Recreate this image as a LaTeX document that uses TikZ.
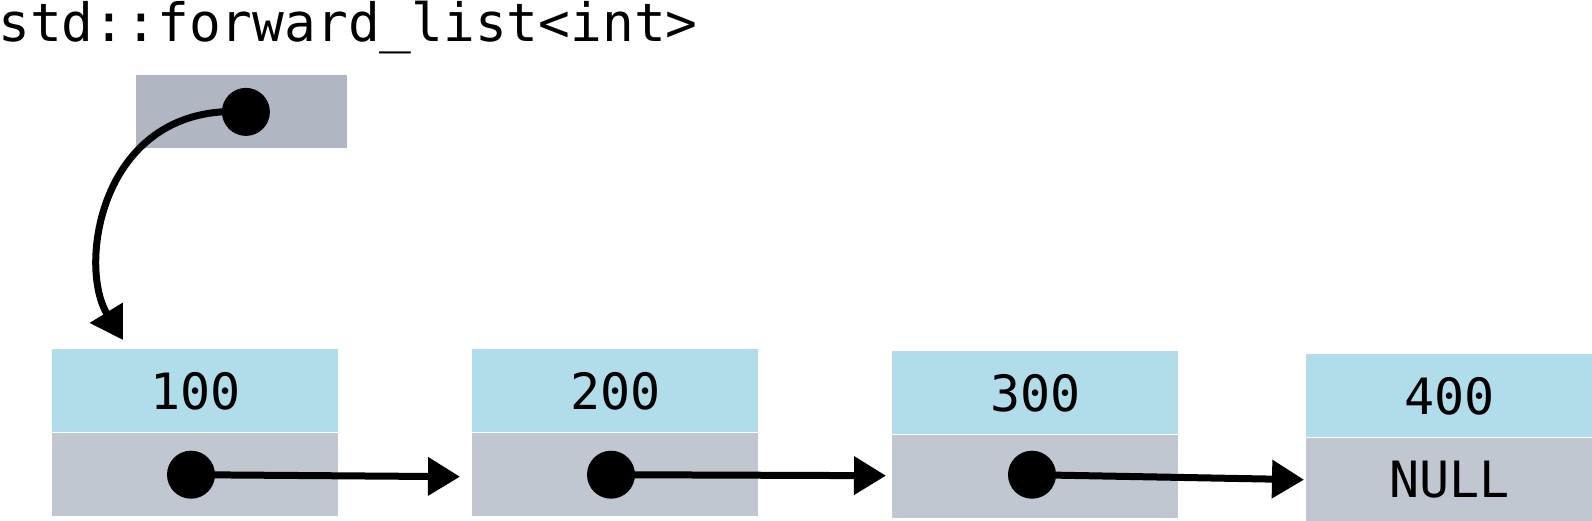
\documentclass[tikz,border=0pt]{standalone}
\usepackage{fontspec}
\setmonofont{DejaVu Sans Mono}
\usetikzlibrary{positioning}
\usetikzlibrary{arrows.meta}
\definecolor{valblue}{RGB}{176,221,233}
\definecolor{nextgray}{RGB}{193,199,209}
\definecolor{headgray}{RGB}{176,183,194}
\tikzset{x=0.5pt, y=-0.5pt,   % One unit is one pixel of the reference, y downwards
    every node/.style={       % Text in all nodes
        font=\ttfamily\fontsize{25}{29}\selectfont},
    valbox/.style={           % Upper part of a list node: the value
        fill=valblue, inner sep=0pt,
        minimum width=143pt, minimum height=41.5pt},
    nextbox/.style={          % Lower part of a list node: the next pointer
        fill=nextgray, inner sep=0pt,
        minimum width=143pt, minimum height=41.5pt},
    headbox/.style={          % The list object itself
        fill=headgray, inner sep=0pt,
        minimum width=105.5pt, minimum height=36.5pt},
    dot/.style={              % Start of a pointer
        circle, fill=black, inner sep=0pt, minimum size=24pt},
    ptr/.style={              % Pointer arrows
        draw, line width=3.5pt,
        -{Triangle[length=16pt, width=18.5pt]}}}

\begin{document}
\begin{tikzpicture}
        \useasboundingbox (0,0) rectangle (1592,520);

        \node[anchor=base west, inner sep=0pt, font=\ttfamily\fontsize{26.4}{31}\selectfont]
            (title) at (-2,41) {std::forward\_list<int>};

        \node[headbox, anchor=north west] (head) at (136,75) {};
        \node[dot] (dh) at ([xshift=2pt]head.center) {};

        \node[valbox, anchor=north west] (b1) at (52,349) {100};
        \node[nextbox, below=0pt of b1] (g1) {};
        \node[valbox, anchor=north west] (b2) at (472,349) {200};
        \node[nextbox, below=0pt of b2] (g2) {};
        \node[valbox, anchor=north west] (b3) at (892,351) {300};
        \node[nextbox, below=0pt of b3] (g3) {};
        \node[valbox, anchor=north west] (b4) at (1306,354) {400};
        \node[nextbox, below=0pt of b4] (g4) {NULL};

        \node[dot] (d1) at ([xshift=69.5pt]g1.west) {};
        \node[dot] (d2) at ([xshift=69.5pt]g2.west) {};
        \node[dot] (d3) at ([xshift=70pt, yshift=1pt]g3.west) {};

        % head pointer: curls round the left of the head box
        \draw[ptr] (dh.center) .. controls +(-145,-10) and +(-46,-75) ..
            ([xshift=35.5pt, yshift=4.5pt]b1.north west);
        \draw[ptr] (d1.center) -- ([xshift=-6pt, yshift=-1pt]g2.west);
        \draw[ptr] (d2.center) -- ([xshift=-3pt, yshift=0.5pt]g3.west);
        \draw[ptr] (d3.center) -- ([xshift=-1pt]g4.west);
    \end{tikzpicture}
\end{document}
